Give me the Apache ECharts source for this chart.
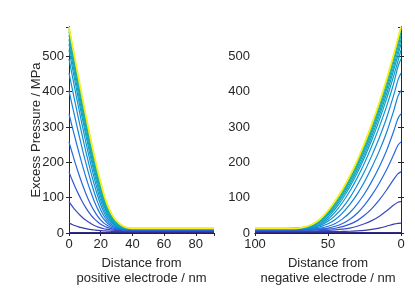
<!DOCTYPE html>
<html><head><meta charset="utf-8">
<script src="https://cdn.jsdelivr.net/npm/echarts@6/dist/echarts.min.js"></script>
<style>html,body{margin:0;padding:0;background:#fff}#c{width:415px;height:302px}</style>
</head><body><div id="c"></div>
<script>
// positions along the separator (nm)
const xLeft = [0, 2, 4, 6, 8, 10, 12, 14, 16, 18, 20, 22, 24, 26, 28, 30, 33, 36, 40, 45, 91.5];
const xRight = [0, 2, 5, 10, 15, 20, 25, 30, 35, 40, 45, 50, 55, 60, 65, 70, 75, 80, 100];

// excess pressure (MPa), one row per time step, near positive electrode
const leftCurves = [
  [1,1,1,1,1,1,1,1,1,1,1,1,1,1,1,1,1,1,1,1,1],
  [28,24,20.5,17.5,15,13,11,9.5,8.5,7.5,6.5,6,5.5,5,4.5,4.3,4,4,4,4,4],
  [89,76,65,55,46,38,32,26,21,17.5,14.5,12,10.5,9,8,7.5,6.5,6,6,6,6],
  [173,150,129,110,92,76,62,50,40,32,25,20,16,13,11,10,9,8,7.5,7.5,7.5],
  [258,227,197,169,143,119,97,78,62,48,37,28,22,17,14,12,10.5,9.5,9,9,9],
  [337,301,266,232,199,168,139,113,89,69,52,39,29,22,17,14,11.5,10.5,10,10,10],
  [403,362,322,283,245,209,175,143,114,88,66,49,36,27,20,16,12.5,11.5,10.5,10.5,10.5],
  [453,409,366,324,283,243,205,169,136,106,80,59,43,32,24,18,13.5,12,11,11,11],
  [493,447,401,356,312,270,229,190,154,121,92,68,50,37,27,20,14.5,12.5,11.5,11.5,11.5],
  [518,471,424,378,333,290,248,207,169,134,103,77,56,41,30,22,15.5,13,12,12,12],
  [535,487,440,393,347,303,260,219,180,144,111,83,61,45,33,24,16.5,13.5,12,12,12],
  [548,500,453,406,359,315,271,229,190,153,119,89,65,48,35,26,17.5,13.5,12.5,12.5,12.5],
  [560,512,465,418,371,326,282,239,199,161,126,95,70,52,38,28,18.5,14,12.5,12.5,12.5],
  [570,522,474,427,380,335,290,247,206,168,132,100,74,55,40,29,19.5,14.5,12.8,12.8,12.8],
  [578,530,482,435,388,343,298,255,214,175,138,105,78,58,43,32,21,15.5,13,13,13],
  [583,535,487,440,393,347,302,259,218,179,143,110,83,62,46,34,22.5,16,13.2,13,13]
];

// excess pressure (MPa), near negative electrode
const rightCurves = [
  [1,1,1,1,1,1,1,1,1,1,1,1,1,1,1,1,1,1,1],
  [28,27.5,25,19,14,10,7.5,6,5,4.5,4,4,4,4,4,4,4,4,4],
  [89,87,79,62,47,35,26,19,14,11,9,7.5,6.5,6,6,6,6,6,6],
  [173,168,152,121,93,69,50,35,25,18,13.5,11,9.5,8.5,8,7.5,7.5,7.5,7.5],
  [258,249,222,178,140,107,79,56,39,27,19,14,11.5,10,9.5,9,9,9,9],
  [337,325,288,232,186,146,111,82,58,40,27,19,14,11.5,10.5,10,10,10,10],
  [403,388,346,283,231,186,145,110,81,57,38,26,18,14,12,11,10.5,10.5,10.5],
  [453,434,390,324,268,219,174,135,100,72,50,33,22,16,13,12,11,11,11],
  [493,472,423,357,299,246,198,156,119,87,60,39,25,17,13.5,12,11.5,11.5,11.5],
  [518,488,445,378,318,263,214,170,131,97,68,44.5,28.6,19.3,14.4,13,12,12,12],
  [535,504,461,392,330,274,223,178,138,104,74,50,32,21,15,13,12,12,12],
  [548,516,472,404,340,283,232,186,145,109,78.5,53,34,22.5,16,13.5,12.5,12.5,12.5],
  [560,528,483,413,349,291,239,192,151,114,83,56,36.5,24,16.5,13.7,12.8,12.5,12.5],
  [570,539,493,423,357,299,246,198,156,119,87,60,39,25,17,14,13,12.8,12.8],
  [578,547,500,429,363,305,251,202,160,122,89,62,40,25.5,17.7,14,13,13,13],
  [583,552,505,433,367,308,254,205,162,124,91,63,41,26,18,14,13,13,13]
];

const curveColors = ['#2c2c80','#3838a8','#3d48c2','#3356d4','#2866e0','#1d74e0','#1582da','#118ed3',
  '#0f97cc','#0d9ec5','#0fa3c0','#12a7b8','#17aab2','#1cadab','#22afa4','#f5f01a'];

const yMax = 583;
const xLeftMax = 91.5;
const xRightMax = 100;
const yTitle = 'Excess Pressure / MPa';
const xTitleLeft = 'Distance from\npositive electrode / nm';
const xTitleRight = 'Distance from\nnegative electrode / nm';

const FONT = "'Liberation Sans', Arial, sans-serif";
const TXT = '#262626';
const axLine = {show:true, lineStyle:{color:'#262626', width:1}};
const tick = {show:true, inside:true, length:3, lineStyle:{color:'#262626'}};

function xa(grid, min, max, interval, inverse, name, pos) {
  const main = pos === 'bottom';
  return {
    type:'value', gridIndex:grid, position:pos, min:min, max:max, interval:interval, inverse:inverse,
    axisLine:axLine, axisTick:tick, splitLine:{show:false},
    axisLabel:{show:main, color:TXT, fontSize:13, fontFamily:FONT, margin:5, showMaxLabel: max % interval === 0, showMinLabel:true},
    name: main ? name : '', nameLocation:'middle', nameGap:15,
    nameTextStyle:{color:TXT, fontSize:13, fontFamily:FONT, lineHeight:15}
  };
}
function ya(grid, pos, name) {
  const main = pos === 'left';
  return {
    type:'value', gridIndex:grid, position:pos, min:0, max:yMax, interval:100,
    axisLine:axLine, axisTick:tick, splitLine:{show:false},
    axisLabel:{show:main, color:TXT, fontSize:13, fontFamily:FONT, margin:5, showMaxLabel:false},
    name: name || '', nameLocation:'middle', nameGap:26, nameMoveOverlap:false,
    nameTextStyle:{color:TXT, fontSize:13, fontFamily:FONT}
  };
}

const series = [];
leftCurves.forEach((vals, i) => {
  series.push({type:'line', xAxisIndex:0, yAxisIndex:0, showSymbol:false, smooth:0.3, animation:false,
    lineStyle:{color:curveColors[i], width: i === leftCurves.length-1 ? 1.8 : 1.2},
    data: xLeft.map((x, k) => [x, vals[k]])});
});
rightCurves.forEach((vals, i) => {
  series.push({type:'line', xAxisIndex:2, yAxisIndex:2, showSymbol:false, smooth:0.3, animation:false,
    lineStyle:{color:curveColors[i], width: i === rightCurves.length-1 ? 1.8 : 1.2},
    data: xRight.map((x, k) => [x, vals[k]])});
});

const chart = echarts.init(document.getElementById('c'), null, {renderer:'canvas'});
chart.setOption({
  animation:false,
  backgroundColor:'#fff',
  grid:[
    {left:69, top:27, width:145, height:206},
    {left:255, top:27, width:146, height:206}
  ],
  xAxis:[
    xa(0, 0, xLeftMax, 20, false, xTitleLeft, 'bottom'),
    xa(0, 0, xLeftMax, 20, false, '', 'top'),
    xa(1, 0, xRightMax, 50, true, xTitleRight, 'bottom'),
    xa(1, 0, xRightMax, 50, true, '', 'top')
  ],
  yAxis:[
    ya(0, 'left', yTitle),
    ya(0, 'right'),
    ya(1, 'left'),
    ya(1, 'right')
  ],
  series: series
});
</script></body></html>
